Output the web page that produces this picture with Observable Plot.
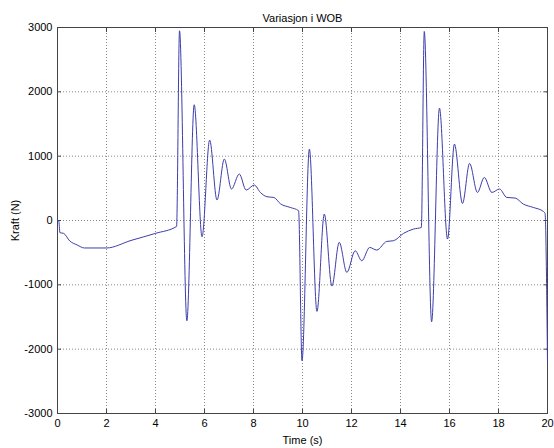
<!DOCTYPE html>
<html><head><meta charset="utf-8">
<script src="https://cdn.jsdelivr.net/npm/d3@7"></script>
<script src="https://cdn.jsdelivr.net/npm/@observablehq/plot@0.6"></script>
<style>body{margin:0;background:#fff;} svg{display:block;}</style>
</head><body><div id="chart"></div>
<script>
const title = "Variasjon i WOB";
const xLabel = "Time (s)";
const yLabel = "Kraft (N)";
const xTicks = [0, 2, 4, 6, 8, 10, 12, 14, 16, 18, 20];
const yTicks = [-3000, -2000, -1000, 0, 1000, 2000, 3000];

const time = [
  0, 0.05, 0.1, 0.25, 0.5, 0.8, 1.1, 2.0, 3.0, 4.0, 4.86,
  4.98, 5.28, 5.58, 5.9, 6.21, 6.51, 6.81, 7.1, 7.42, 7.7, 8.03, 8.28, 8.55, 8.83, 9.1, 9.5, 9.84,
  9.98, 10.28, 10.59, 10.89, 11.2, 11.5, 11.81, 12.15, 12.42, 12.74, 13.03, 13.44, 13.71, 14.12, 14.53, 14.85,
  14.97, 15.27, 15.59, 15.92, 16.2, 16.53, 16.82, 17.14, 17.42, 17.73, 18.04, 18.34, 18.68, 19.01, 19.42, 19.83, 19.9, 20
];
const force = [
  0, 0, -190, -200, -318, -380, -427, -427, -310, -200, -92,
  2949, -1558, 1799, -253, 1250, 318, 955, 489, 722, 473, 551, 436, 369, 358, 260, 203, 152,
  -2179, 1110, -1413, 100, -1019, -340, -807, -470, -626, -419, -459, -325, -315, -201, -133, -108,
  2938, -1573, 1747, -288, 1188, 265, 887, 436, 669, 436, 489, 358, 349, 256, 203, 141, 110, -2206
];
const data = time.map((t, i) => ({t, f: force[i]}));

const chart = Plot.plot({
  width: 554, height: 448,
  marginLeft: 57, marginRight: 7, marginTop: 27, marginBottom: 35,
  style: {fontFamily: "'Liberation Sans', Arial, sans-serif", fontSize: "11px", background: "#fff", color: "#000"},
  x: {domain: [0, 20]},
  y: {domain: [-3000, 3000]},
  marks: [
    Plot.gridX(xTicks, {stroke: "#888", strokeOpacity: 1, strokeDasharray: "1,2"}),
    Plot.gridY(yTicks, {stroke: "#888", strokeOpacity: 1, strokeDasharray: "1,2"}),
    Plot.axisX(xTicks, {tickSize: -4, tickPadding: 10, tickFormat: d => String(d), label: xLabel, labelAnchor: "center", labelArrow: "none", labelOffset: 30, stroke: "#444"}),
    Plot.axisX(xTicks, {anchor: "top", tickSize: -4, tickFormat: () => "", label: null, stroke: "#444"}),
    Plot.axisY(yTicks, {tickSize: -4, tickPadding: 9, tickFormat: d => String(d), label: yLabel, labelAnchor: "center", labelArrow: "none", labelOffset: 46, stroke: "#444"}),
    Plot.axisY(yTicks, {anchor: "right", tickSize: -4, tickFormat: () => "", label: null, stroke: "#444"}),
    Plot.frame({stroke: "#444"}),
    Plot.lineY(data, {x: "t", y: "f", stroke: "#3d3dab", strokeWidth: 1, curve: "monotone-x"}),
    Plot.text([title], {frameAnchor: "top", dy: -13, fontSize: 11})
  ]
});
document.getElementById("chart").append(chart);
</script>
</body></html>
